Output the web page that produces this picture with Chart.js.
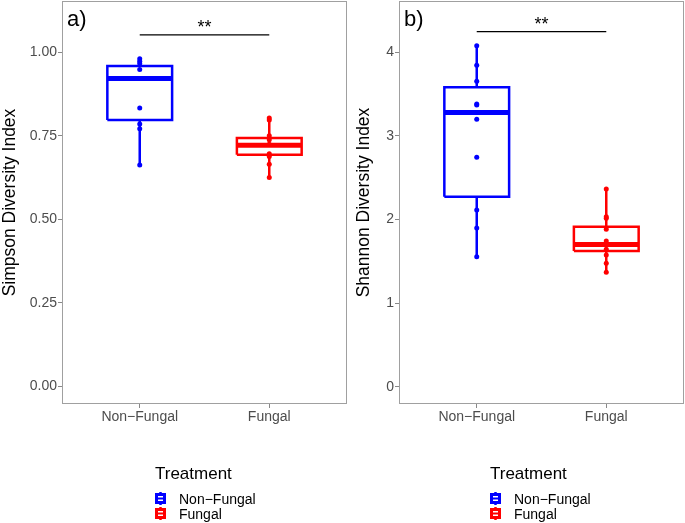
<!DOCTYPE html>
<html>
<head>
<meta charset="utf-8">
<script src="https://cdn.jsdelivr.net/npm/chart.js@4.4.1/dist/chart.umd.min.js"></script>
<style>
  body { margin: 0; background: #fff; font-family: "Liberation Sans", Arial, sans-serif; }
  #wrap { position: relative; width: 685px; height: 523px; overflow: hidden; }
  canvas { position: absolute; top: 0; }
  .legend { position: absolute; top: 464px; color: #000; }
  .legend .ttl { font-size: 17px; margin-bottom: 7px; }
  .legend .row { display: flex; align-items: center; height: 15px; font-size: 14px; }
  .legend svg { margin-right: 13px; }
</style>
</head>
<body>
<div id="wrap">
  <canvas id="simpsonChart" width="350" height="523" style="left:0px"></canvas>
  <canvas id="shannonChart" width="335" height="523" style="left:350px"></canvas>
  <div class="legend" id="legA" style="left:155px"></div>
  <div class="legend" id="legB" style="left:490px"></div>
</div>
<script>
// grupos y colores
const groups = ['Non\u2212Fungal', 'Fungal'];
const colors = ['#0000ff', '#ff0000'];

// Simpson: estadisticos de caja por grupo
const simpsonQ1 = [0.797, 0.693];
const simpsonMedian = [0.921, 0.722];
const simpsonQ3 = [0.959, 0.743];
const simpsonLow = [0.663, 0.625];
const simpsonHigh = [0.980, 0.800];
const simpsonNonFungal = [0.980, 0.973, 0.966, 0.948, 0.921, 0.833, 0.785, 0.771, 0.663];
const simpsonFungal = [0.803, 0.797, 0.750, 0.738, 0.725, 0.696, 0.688, 0.665, 0.625];
const simpsonTicks = [0, 0.25, 0.5, 0.75, 1.0];

// Shannon
const shannonQ1 = [2.273, 1.623];
const shannonMedian = [3.278, 1.700];
const shannonQ3 = [3.581, 1.914];
const shannonLow = [1.555, 1.368];
const shannonHigh = [4.079, 2.365];
const shannonNonFungal = [4.079, 3.844, 3.653, 3.382, 3.370, 3.278, 3.199, 2.744, 2.112, 1.897, 1.555];
const shannonFungal = [2.365, 2.033, 2.015, 1.883, 1.743, 1.707, 1.643, 1.575, 1.476, 1.368];
const shannonTicks = [0, 1, 2, 3, 4];

// barra de significancia
const sigLevel = [1.052, 4.246];
const sigText = '**';
const panelTags = ['a)', 'b)'];

Chart.defaults.font.family = '"Liberation Sans", Arial, sans-serif';

function boxSets(i, q1, med, q3, lo, hi, pts) {
    const x = i + 1, w = 0.25, c = colors[i];
    const line = { showLine: true, pointRadius: 0, borderColor: c, fill: false,
                   borderCapStyle: 'butt', borderJoinStyle: 'miter', order: 2 };
    return [
        Object.assign({}, line, { borderWidth: 2.5, data: [
            {x: x - w, y: q1}, {x: x + w, y: q1}, {x: x + w, y: q3}, {x: x - w, y: q3}, {x: x - w, y: q1}] }),
        Object.assign({}, line, { borderWidth: 5, data: [{x: x - w, y: med}, {x: x + w, y: med}] }),
        Object.assign({}, line, { borderWidth: 2.5, data: [{x: x, y: q3}, {x: x, y: hi}] }),
        Object.assign({}, line, { borderWidth: 2.5, data: [{x: x, y: lo}, {x: x, y: q1}] }),
        { data: pts.map(v => ({x: x, y: v})), pointRadius: 2.5, pointBorderWidth: 0,
          backgroundColor: c, borderColor: c, showLine: false, order: 0 }
    ];
}

const frame = {
    id: 'frame',
    afterDatasetsDraw(chart, args, opts) {
        const a = chart.chartArea, ctx = chart.ctx;
        ctx.save();
        ctx.strokeStyle = '#a0a0a0';
        ctx.lineWidth = 1;
        ctx.strokeRect(a.left + 0.5, a.top + 0.5, a.right - a.left - 1, a.bottom - a.top - 1);
        ctx.fillStyle = '#000';
        ctx.font = '22px "Liberation Sans", Arial, sans-serif';
        ctx.textBaseline = 'top';
        ctx.fillText(opts.tag, a.left + 5, a.top + 8);
        const xs = chart.scales.x, ys = chart.scales.y;
        ctx.font = '18px "Liberation Sans", Arial, sans-serif';
        ctx.textAlign = 'center';
        ctx.textBaseline = 'alphabetic';
        ctx.fillText(sigText, (xs.getPixelForValue(1) + xs.getPixelForValue(2)) / 2, ys.getPixelForValue(opts.sig) - 2);
        ctx.restore();
    }
};

function noPad(axis) {
    axis.paddingTop = 0; axis.paddingBottom = 0; axis.paddingLeft = 0; axis.paddingRight = 0;
}

function makeChart(id, sets, yMin, yMax, yTicks, yTitle, yWidth, fmt, tag, sig, titlePad) {
    sets.push({ data: [{x: 1, y: sig}, {x: 2, y: sig}], showLine: true, pointRadius: 0,
                borderColor: '#000', borderWidth: 1.2, order: 1 });
    new Chart(document.getElementById(id), {
        type: 'scatter',
        data: { datasets: sets },
        options: {
            responsive: false,
            animation: false,
            layout: { autoPadding: false, padding: { top: 1, left: 0, bottom: 0, right: id === 'simpsonChart' ? 3 : 1 } },
            plugins: { legend: { display: false }, tooltip: { enabled: false }, frame: { tag: tag, sig: sig } },
            scales: {
                x: {
                    type: 'linear', min: 0.4, max: 2.6,
                    afterBuildTicks: axis => { axis.ticks = [{value: 1}, {value: 2}]; },
                    afterFit: axis => { axis.height = 119; noPad(axis); },
                    grid: { drawOnChartArea: false, tickLength: 4, color: '#888' },
                    border: { display: false },
                    ticks: { callback: v => groups[v - 1], color: '#4d4d4d', font: { size: 14 }, padding: 1, maxRotation: 0 }
                },
                y: {
                    min: yMin, max: yMax,
                    afterBuildTicks: axis => { axis.ticks = yTicks.map(v => ({value: v})); },
                    afterFit: axis => { axis.width = yWidth; noPad(axis); },
                    grid: { drawOnChartArea: false, tickLength: 4, color: '#888' },
                    border: { display: false },
                    ticks: { callback: fmt, color: '#4d4d4d', font: { size: 14 }, padding: 1 },
                    title: { display: true, text: yTitle, color: '#000', font: { size: 17.5 }, padding: { top: titlePad, bottom: 0 } }
                }
            }
        },
        plugins: [frame]
    });
}

makeChart('simpsonChart',
    boxSets(0, simpsonQ1[0], simpsonMedian[0], simpsonQ3[0], simpsonLow[0], simpsonHigh[0], simpsonNonFungal)
        .concat(boxSets(1, simpsonQ1[1], simpsonMedian[1], simpsonQ3[1], simpsonLow[1], simpsonHigh[1], simpsonFungal)),
    -0.052, 1.153, simpsonTicks, 'Simpson Diversity Index', 62, v => v.toFixed(2), panelTags[0], sigLevel[0], 0);

makeChart('shannonChart',
    boxSets(0, shannonQ1[0], shannonMedian[0], shannonQ3[0], shannonLow[0], shannonHigh[0], shannonNonFungal)
        .concat(boxSets(1, shannonQ1[1], shannonMedian[1], shannonQ3[1], shannonLow[1], shannonHigh[1], shannonFungal)),
    -0.207, 4.613, shannonTicks, 'Shannon Diversity Index', 49, v => String(v), panelTags[1], sigLevel[1], 4);

// leyendas en HTML
function icon(c) {
    return '<svg width="11" height="13" viewBox="0 0 11 13">' +
        '<line x1="5.5" y1="0" x2="5.5" y2="13" stroke="' + c + '" stroke-width="2.5"/>' +
        '<rect x="1.5" y="2.5" width="8" height="8" fill="#fff" stroke="' + c + '" stroke-width="3"/>' +
        '<line x1="1" y1="6.5" x2="10" y2="6.5" stroke="' + c + '" stroke-width="2"/></svg>';
}
['legA', 'legB'].forEach(id => {
    let html = '<div class="ttl">Treatment</div>';
    groups.forEach((g, i) => { html += '<div class="row">' + icon(colors[i]) + '<span>' + g + '</span></div>'; });
    document.getElementById(id).innerHTML = html;
});
</script>
</body>
</html>
